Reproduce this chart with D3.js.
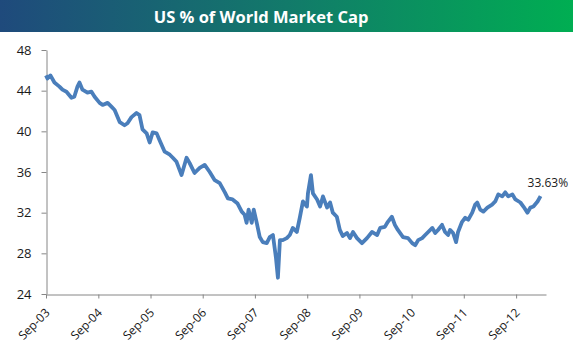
<!DOCTYPE html>
<html>
<head>
<meta charset="utf-8">
<script src="https://cdn.jsdelivr.net/npm/d3@7"></script>
<style>
  body { margin: 0; background: #fff; }
  svg { display: block; font-family: "Open Sans", sans-serif; }
</style>
</head>
<body>
<div id="chart"></div>
<script>
const chartTitle = 'US % of World Market Cap';
const lastLabel = '33.63%';

const dates = [
  '2003-09-01', '2003-09-11', '2003-10-02', '2003-10-30', '2003-12-04', '2003-12-25',
  '2004-01-22', '2004-02-26', '2004-03-17', '2004-04-08', '2004-04-22', '2004-05-13',
  '2004-06-17', '2004-07-15', '2004-08-06', '2004-09-10', '2004-10-01', '2004-11-05',
  '2004-12-03', '2004-12-24', '2005-01-29', '2005-03-03', '2005-03-24', '2005-04-21',
  '2005-05-26', '2005-06-16', '2005-07-07', '2005-08-05', '2005-08-26', '2005-09-16',
  '2005-10-14', '2005-11-04', '2005-12-09', '2006-01-14', '2006-02-04', '2006-03-02',
  '2006-04-06', '2006-05-11', '2006-06-01', '2006-07-06', '2006-08-11', '2006-09-15',
  '2006-10-20', '2006-11-24', '2006-12-29', '2007-02-03', '2007-02-24', '2007-03-29',
  '2007-05-03', '2007-06-01', '2007-06-21', '2007-07-05', '2007-07-19', '2007-08-10',
  '2007-08-24', '2007-09-14', '2007-10-05', '2007-10-26', '2007-11-23', '2007-12-14',
  '2008-01-05', '2008-01-26', '2008-02-09', '2008-02-23', '2008-03-14', '2008-04-11',
  '2008-05-02', '2008-05-23', '2008-06-20', '2008-07-11', '2008-08-02', '2008-08-30',
  '2008-09-06', '2008-09-27', '2008-10-11', '2008-11-09', '2008-11-30', '2008-12-20',
  '2009-01-18', '2009-02-08', '2009-02-27', '2009-03-27', '2009-04-17', '2009-05-08',
  '2009-06-06', '2009-06-27', '2009-07-18', '2009-08-15', '2009-09-19', '2009-10-24',
  '2009-11-28', '2010-01-03', '2010-01-24', '2010-02-26', '2010-03-19', '2010-04-16',
  '2010-05-07', '2010-05-28', '2010-07-03', '2010-08-07', '2010-09-05', '2010-09-26',
  '2010-10-17', '2010-11-14', '2010-12-05', '2010-12-26', '2011-01-24', '2011-02-13',
  '2011-03-05', '2011-04-02', '2011-04-23', '2011-05-14', '2011-05-28', '2011-06-18',
  '2011-07-09', '2011-07-23', '2011-08-20', '2011-09-11', '2011-10-02', '2011-10-30',
  '2011-11-20', '2011-12-04', '2011-12-25', '2012-01-16', '2012-02-13', '2012-03-17',
  '2012-04-08', '2012-04-29', '2012-05-27', '2012-06-17', '2012-07-08', '2012-08-06',
  '2012-08-27', '2012-10-01', '2012-10-22', '2012-11-19', '2012-12-10', '2012-12-31',
  '2013-01-29', '2013-02-19'
];

const usShare = [
  45.5, 45.2, 45.5, 44.8, 44.4, 44.1,
  43.9, 43.3, 43.4, 44.4, 44.8, 44.1,
  43.8, 43.9, 43.4, 42.8, 42.6, 42.8,
  42.4, 42.1, 40.9, 40.6, 40.8, 41.4,
  41.8, 41.6, 40.2, 39.8, 38.9, 39.9,
  39.8, 39.1, 38.0, 37.7, 37.4, 37.0,
  35.7, 37.4, 36.9, 35.9, 36.4, 36.7,
  36.0, 35.2, 34.9, 34.0, 33.4, 33.3,
  32.9, 32.1, 31.8, 31.0, 32.3, 31.0,
  32.3, 31.0, 29.6, 29.1, 29.0, 29.6,
  29.8, 27.6, 25.6, 29.3, 29.3, 29.5,
  29.8, 30.5, 30.1, 31.5, 33.1, 32.6,
  33.9, 35.7, 33.9, 33.3, 32.6, 33.6,
  32.5, 33.0, 32.0, 31.6, 30.3, 29.7,
  30.0, 29.5, 30.1, 29.5, 29.0, 29.5,
  30.1, 29.8, 30.5, 30.6, 31.1, 31.6,
  30.8, 30.3, 29.6, 29.5, 29.0, 28.8,
  29.3, 29.5, 29.8, 30.1, 30.5, 30.0,
  30.3, 30.8, 30.1, 29.8, 30.3, 30.0,
  29.1, 30.1, 31.1, 31.5, 31.3, 32.0,
  32.8, 33.0, 32.3, 32.1, 32.5, 32.8,
  33.1, 33.8, 33.6, 34.0, 33.6, 33.8,
  33.3, 33.0, 32.6, 32.0, 32.5, 32.6,
  33.1, 33.63
];

const yTicks = [24, 28, 32, 36, 40, 44, 48];
const xTickDates = ['2003-09-01', '2004-09-01', '2005-09-01', '2006-09-01', '2007-09-01',
  '2008-09-01', '2009-09-01', '2010-09-01', '2011-09-01', '2012-09-01'];
const xDomain = ['2003-09-01', '2013-03-29'];

const width = 573;
const height = 354;
const margin = { top: 50, right: 27, bottom: 60, left: 46 };

const parse = d3.timeParse('%Y-%m-%d');
const data = dates.map((d, i) => ({ date: parse(d), value: usShare[i] }));

const svg = d3.select('#chart')
  .append('svg')
  .attr('width', width)
  .attr('height', height);

// title bar
const defs = svg.append('defs');
const grad = defs.append('linearGradient')
  .attr('id', 'title-grad')
  .attr('x1', '0%').attr('x2', '100%')
  .attr('y1', '0%').attr('y2', '0%');
grad.append('stop').attr('offset', '0%').attr('stop-color', '#1f4a7c');
grad.append('stop').attr('offset', '50%').attr('stop-color', '#127a6a');
grad.append('stop').attr('offset', '100%').attr('stop-color', '#00ae52');

svg.append('rect')
  .attr('width', width)
  .attr('height', 32)
  .attr('fill', 'url(#title-grad)');

svg.append('text')
  .attr('x', 261)
  .attr('y', 22.5)
  .attr('text-anchor', 'middle')
  .attr('fill', '#fff')
  .attr('font-size', 16.5)
  .attr('font-weight', 'bold')
  .text(chartTitle);

const x = d3.scaleTime()
  .domain(xDomain.map(parse))
  .range([margin.left, width - margin.right]);

const y = d3.scaleLinear()
  .domain([24, 48])
  .range([height - margin.bottom, margin.top]);

// y axis
const yAxis = svg.append('g')
  .attr('transform', `translate(${margin.left + 0.5},0)`)
  .call(d3.axisLeft(y).tickValues(yTicks).tickSize(5).tickPadding(10).tickSizeOuter(0));

// x axis
const xAxis = svg.append('g')
  .attr('transform', `translate(0,${height - margin.bottom + 0.5})`)
  .call(d3.axisBottom(x).tickValues(xTickDates.map(parse)).tickSize(4)
    .tickSizeOuter(0).tickFormat(d3.timeFormat('%b-%y')));

[yAxis, xAxis].forEach(g => {
  g.select('.domain').attr('stroke', '#868686');
  g.selectAll('.tick line').attr('stroke', '#868686');
  g.selectAll('text').attr('fill', '#1a1a1a').attr('font-family', '"Open Sans", sans-serif');
});

yAxis.selectAll('text').attr('font-size', 13);

xAxis.selectAll('text')
  .attr('font-size', 12)
  .attr('text-anchor', 'end')
  .attr('dy', null)
  .attr('y', 0)
  .attr('transform', 'translate(4,19) rotate(-45)');

// line
const line = d3.line()
  .x(d => x(d.date))
  .y(d => y(d.value));

svg.append('path')
  .datum(data)
  .attr('fill', 'none')
  .attr('stroke', '#4a7ebb')
  .attr('stroke-width', 3.8)
  .attr('stroke-linejoin', 'round')
  .attr('d', line);

const last = data[data.length - 1];
svg.append('text')
  .attr('x', x(last.date) - 13)
  .attr('y', y(last.value) - 9)
  .attr('font-size', 12)
  .attr('fill', '#1a1a1a')
  .text(lastLabel);
</script>
</body>
</html>
